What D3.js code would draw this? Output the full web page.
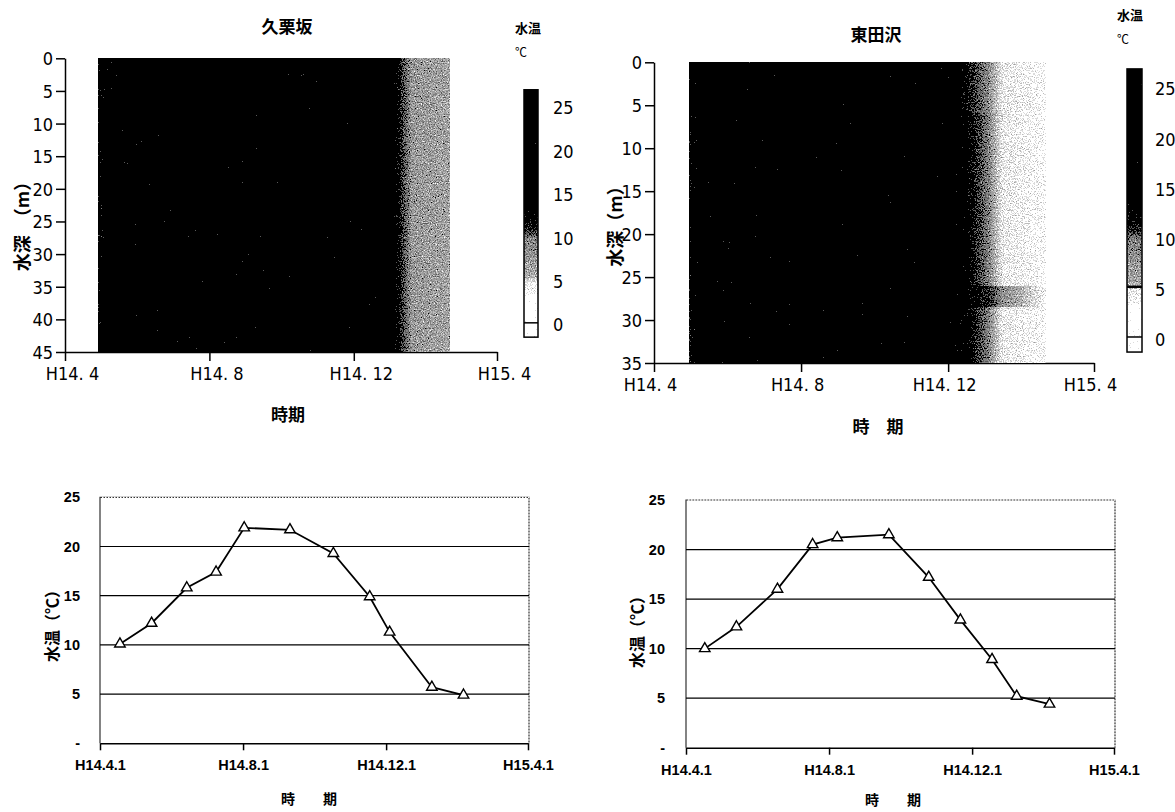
<!DOCTYPE html>
<html>
<head>
<meta charset="utf-8">
<title>水温</title>
<style>
	body { margin: 0; background: #fff; }
	.narrow { font-family: 'Liberation Sans Narrow', 'DejaVu Sans Condensed', 'Arial Narrow', sans-serif; font-size: 18px; }
	.jp { font-family: 'Noto Sans CJK JP', sans-serif; font-weight: bold; }
	.xl { font-family: 'Liberation Sans', Arial, sans-serif; font-weight: bold; font-size: 14.5px; }
</style>
</head>
<body>
<script src="https://cdn.jsdelivr.net/npm/d3@7"></script>
<script>

// ---- data ----
var heatTickDates = ['2002-04-01', '2002-08-01', '2002-12-01', '2003-04-01'];
var heatTickLabels = ['H14. 4', 'H14. 8', 'H14. 12', 'H15. 4'];
var lineTickLabels = ['H14.4.1', 'H14.8.1', 'H14.12.1', 'H15.4.1'];
var tempTicks = [0, 5, 10, 15, 20, 25];
var depthTicksKuri = [0, 5, 10, 15, 20, 25, 30, 35, 40, 45];
var depthTicksHiga = [0, 5, 10, 15, 20, 25, 30, 35];

// 久栗坂 : contour strip (same value at every depth)
var kuriHeatDates = ['2002-04-29', '2002-05-07', '2003-01-03', '2003-01-10', '2003-01-19', '2003-02-20'];
var kuriHeatTemps = [12.2, 18, 18, 11, 7.6, 6.6];

// 東田沢 : contour bands by depth
var higaHeatDates = ['2002-04-30', '2002-05-08', '2002-12-02', '2002-12-16', '2003-01-04', '2003-01-15', '2003-01-29', '2003-02-20'];
var higaBandTop = [0, 6, 26, 28.5];
var higaBandBottom = [6, 26, 28.5, 35];
var higaHeatTemps = [
	[12.6, 18, 15, 12, 8.5, 5.0, 4.6, 3.8],
	[12.6, 18, 16, 13, 9.5, 5.0, 4.6, 3.7],
	[12.6, 18, 16, 13, 11, 8.5, 5.8, 3.8],
	[11.8, 18, 16, 13, 9.5, 5.0, 4.5, 3.7]
];

// monthly surface survey
var kuriDates = ['2002-04-18', '2002-05-15', '2002-06-14', '2002-07-09', '2002-08-02', '2002-09-10', '2002-10-17', '2002-11-17', '2002-12-04', '2003-01-09', '2003-02-05'];
var kuriTemps = [10.1, 12.2, 15.8, 17.4, 21.9, 21.7, 19.3, 14.9, 11.3, 5.7, 4.9];
var higaDates = ['2002-04-17', '2002-05-14', '2002-06-18', '2002-07-18', '2002-08-08', '2002-09-21', '2002-10-25', '2002-11-21', '2002-12-18', '2003-01-08', '2003-02-05'];
var higaTemps = [10.0, 12.2, 16.0, 20.5, 21.2, 21.5, 17.2, 12.9, 8.9, 5.2, 4.4];

var parse = d3.timeParse('%Y-%m-%d');
var span = [parse('2002-04-01'), parse('2003-04-01')];

var svg = d3.select('body').append('svg').attr('width', 1175).attr('height', 812);
var defs = svg.append('defs');

// grainy halftone look of the scanned contour plot
var filt = defs.append('filter').attr('id', 'dither')
	.attr('color-interpolation-filters', 'sRGB');
filt.append('feTurbulence').attr('type', 'fractalNoise').attr('baseFrequency', 0.85)
	.attr('numOctaves', 2).attr('seed', 7).attr('result', 'noise');
filt.append('feColorMatrix').attr('in', 'noise').attr('type', 'matrix')
	.attr('values', '1 0 0 0 0  1 0 0 0 0  1 0 0 0 0  0 0 0 0 1').attr('result', 'gray');
filt.append('feComposite').attr('in', 'SourceGraphic').attr('in2', 'gray').attr('operator', 'arithmetic')
	.attr('k1', 0).attr('k2', 1).attr('k3', 0.9).attr('k4', -0.45).attr('result', 'mix');
var ct = filt.append('feComponentTransfer').attr('in', 'mix').attr('result', 'dith');
['feFuncR', 'feFuncG', 'feFuncB'].forEach(function(f) {
	ct.append(f).attr('type', 'discrete').attr('tableValues', '0 0 0 0.35 0.5 0.62 0.74 0.86 1 1');
});
filt.append('feComposite').attr('in', 'dith').attr('in2', 'SourceGraphic').attr('operator', 'in');

var heatColor = d3.scaleLinear()
	.domain([3.4, 3.6, 5.0, 5.6, 10, 11, 12.8, 14])
	.range(['#ffffff', '#e2e2e2', '#cccccc', '#999999', '#727272', '#404040', '#181818', '#000000'])
	.clamp(true);

var gradCount = 0;

function drawHeat(o) {
	var x = d3.scaleTime().domain(span).range(o.xr);
	var y = d3.scaleLinear().domain([0, o.maxDepth]).range(o.yr);
	var g = svg.append('g');

	// axes
	g.append('g').attr('transform', 'translate(' + o.xr[0] + ',0)')
		.call(d3.axisLeft(y).tickValues(o.depthTicks).tickSize(9).tickSizeOuter(0).tickPadding(3))
		.call(function(a) {
			a.selectAll('text').attr('class', 'narrow').attr('font-size', null).attr('font-family', null).attr('dy', '0.36em');
			a.selectAll('line, path').attr('stroke', '#000').attr('stroke-width', 1.5);
		});
	g.append('g').attr('transform', 'translate(0,' + o.yr[1] + ')')
		.call(d3.axisBottom(x).tickValues(heatTickDates.map(parse)).tickSize(9).tickSizeOuter(0)
			.tickFormat(function(d, i) { return heatTickLabels[i]; }))
		.call(function(a) {
			a.selectAll('text').attr('class', 'narrow').attr('font-size', null).attr('font-family', null)
				.attr('y', 15).attr('dy', '0.71em').attr('dx', o.labelDx);
			a.selectAll('line, path').attr('stroke', '#000').attr('stroke-width', 1.5);
		});

	// contour bands
	var hm = g.append('g').attr('filter', 'url(#dither)');
	o.bandTop.forEach(function(top, b) {
		var dates = o.dates.map(parse);
		var x0 = x(dates[0]), x1 = x(dates[dates.length - 1]);
		var id = 'hg' + (gradCount++);
		var lg = defs.append('linearGradient').attr('id', id)
			.attr('gradientUnits', 'userSpaceOnUse')
			.attr('x1', x0).attr('x2', x1).attr('y1', 0).attr('y2', 0);
		dates.forEach(function(d, i) {
			lg.append('stop').attr('offset', (x(d) - x0) / (x1 - x0))
				.attr('stop-color', heatColor(o.temps[b][i]));
		});
		var yb = b < o.bandTop.length - 1 ? y(o.bandBottom[b]) + 1 : y(o.bandBottom[b]);
		hm.append('rect').attr('x', x0).attr('width', x1 - x0)
			.attr('y', y(top)).attr('height', yb - y(top))
			.attr('shape-rendering', 'crispEdges')
			.attr('fill', 'url(#' + id + ')');
	});

	// titles
	g.append('text').attr('class', 'jp').attr('font-size', 17).attr('text-anchor', 'middle')
		.attr('x', o.titleX).attr('y', o.titleY).attr('dy', '0.35em').text(o.title);
	g.append('text').attr('class', 'jp').attr('font-size', 17).attr('text-anchor', 'middle')
		.attr('x', o.xlabX).attr('y', o.xlabY).attr('dy', '0.35em').text(o.xlab);
	g.append('text').attr('class', 'jp').attr('font-size', 18).attr('text-anchor', 'middle')
		.attr('transform', 'translate(' + o.ylabX + ',' + o.ylabY + ') rotate(-90)')
		.attr('dy', '0.35em').text(o.ylab);

	// colour bar
	var c = d3.scaleLinear().domain([0, 25]).range(o.cbar.yr);
	var cg = g.append('g');
	var cid = 'cb' + (gradCount++);
	var lo = o.cbar.lo, hi = o.cbar.hi;
	var cgr = defs.append('linearGradient').attr('id', cid)
		.attr('gradientUnits', 'userSpaceOnUse')
		.attr('x1', 0).attr('x2', 0).attr('y1', c(lo)).attr('y2', c(hi));
	d3.range(lo, hi + 0.001, 0.1).forEach(function(v) {
		cgr.append('stop').attr('offset', (v - lo) / (hi - lo)).attr('stop-color', heatColor(v));
	});
	cg.append('rect').attr('x', o.cbar.x).attr('width', o.cbar.w)
		.attr('y', c(hi)).attr('height', c(lo) - c(hi))
		.attr('fill', 'url(#' + cid + ')').attr('filter', 'url(#dither)');
	cg.append('rect').attr('x', o.cbar.x).attr('width', o.cbar.w)
		.attr('y', c(hi)).attr('height', c(lo) - c(hi))
		.attr('fill', 'none').attr('stroke', '#000').attr('stroke-width', 1.5);
	o.cbar.lines.forEach(function(l) {
		cg.append('line').attr('x1', o.cbar.x).attr('x2', o.cbar.x + o.cbar.w)
			.attr('y1', c(l[0])).attr('y2', c(l[0]))
			.attr('stroke', '#000').attr('stroke-width', l[1]);
	});
	cg.selectAll('.cl').data(tempTicks).enter().append('text')
		.attr('class', 'narrow').attr('x', o.cbar.lx).attr('y', function(d) { return c(d); })
		.attr('dy', '0.36em').text(function(d) { return d; });
	cg.append('text').attr('class', 'jp').attr('font-size', 13).attr('text-anchor', 'middle')
		.attr('x', o.cbar.tx + 13).attr('y', o.cbar.ty).attr('dy', '0.35em').text('水温');
	cg.append('text').attr('font-family', "'Noto Sans CJK JP', sans-serif").attr('font-size', 12)
		.attr('x', o.cbar.tx).attr('y', o.cbar.ty + 25).attr('dy', '0.35em').text('℃');
}

drawHeat({
	xr: [65, 497], yr: [58.3, 352], maxDepth: 45, depthTicks: depthTicksKuri, labelDx: 7,
	dates: kuriHeatDates, bandTop: [0], bandBottom: [45], temps: [kuriHeatTemps],
	title: '久栗坂', titleX: 287, titleY: 27,
	xlab: '時期', xlabX: 288, xlabY: 415,
	ylab: '水深　（m）', ylabX: 23, ylabY: 222,
	cbar: { x: 524, w: 14, yr: [325, 108], lo: -1.4, hi: 27.1, lx: 553, tx: 515, ty: 28,
		lines: [[0.25, 1.5]] }
});

drawHeat({
	xr: [654, 1094], yr: [62.3, 363], maxDepth: 35, depthTicks: depthTicksHiga, labelDx: -4,
	dates: higaHeatDates, bandTop: higaBandTop, bandBottom: higaBandBottom, temps: higaHeatTemps,
	title: '東田沢', titleX: 876, titleY: 35,
	xlab: '時　期', xlabX: 878, xlabY: 427,
	ylab: '水深（m）', ylabX: 616, ylabY: 222,
	cbar: { x: 1127, w: 15, yr: [340, 89], lo: -1.2, hi: 27, lx: 1155, tx: 1117, ty: 15,
		lines: [[0.3, 1.5], [5.3, 2.5]] }
});

function drawLine(o) {
	var x = d3.scaleTime().domain(span).range(o.xr);
	var y = d3.scaleLinear().domain([0, 25]).range(o.yr);
	var g = svg.append('g');
	var L = o.xr[0], R = o.xr[1] + 1, T = y(25), B = y(0);

	// plot frame: solid left, dotted top and right
	g.append('path').attr('d', 'M' + L + ',' + B + 'V' + T + 'H' + R + 'V' + B)
		.attr('fill', 'none').attr('stroke', '#333').attr('stroke-width', 1.2);
	g.append('path').attr('d', 'M' + (L + 2) + ',' + T + 'H' + R + 'V' + B)
		.attr('fill', 'none').attr('stroke', '#fff').attr('stroke-width', 1.3).attr('stroke-dasharray', '1.5,1.5');
	g.selectAll('.grid').data([5, 10, 15, 20]).enter().append('line')
		.attr('x1', L).attr('x2', R).attr('y1', y).attr('y2', y)
		.attr('stroke', '#000').attr('stroke-width', 1.2);

	g.append('g').attr('transform', 'translate(0,' + B + ')')
		.call(d3.axisBottom(x).tickValues(heatTickDates.map(parse)).tickSize(7).tickSizeOuter(0)
			.tickFormat(function(d, i) { return lineTickLabels[i]; }))
		.call(function(a) {
			a.selectAll('text').attr('class', 'xl').attr('font-size', null).attr('font-family', null)
				.attr('y', 22).attr('dy', '0.35em');
			a.selectAll('line, path').attr('stroke', '#000').attr('stroke-width', 1.5);
		});

	g.selectAll('.yl').data(tempTicks).enter().append('text')
		.attr('class', 'xl').attr('text-anchor', 'end')
		.attr('x', o.ylx).attr('y', y).attr('dy', '0.35em')
		.text(function(d) { return d === 0 ? '-' : d; });

	var pts = o.dates.map(function(d, i) { return [x(parse(d)), y(o.temps[i])]; });
	g.append('path').attr('d', d3.line()(pts))
		.attr('fill', 'none').attr('stroke', '#000').attr('stroke-width', 1.8);
	g.selectAll('.pt').data(pts).enter().append('path')
		.attr('d', d3.symbol(d3.symbolTriangle, 48))
		.attr('transform', function(p) { return 'translate(' + p[0] + ',' + p[1] + ')'; })
		.attr('fill', '#fff').attr('stroke', '#000').attr('stroke-width', 1.4);

	g.append('text').attr('class', 'jp').attr('font-size', 14).attr('text-anchor', 'middle')
		.attr('x', o.xlabX).attr('y', o.xlabY).attr('dy', '0.35em').text('時　　期');
	g.append('text').attr('class', 'jp').attr('font-size', 16).attr('text-anchor', 'middle')
		.attr('transform', 'translate(' + o.ylabX + ',' + o.ylabY + ') rotate(-90)')
		.attr('dy', '0.35em').text('水温（℃）');
}

drawLine({ xr: [100, 528], yr: [743.3, 497.3], dates: kuriDates, temps: kuriTemps,
	ylx: 80, xlabX: 309, xlabY: 799, ylabX: 52, ylabY: 622 });
drawLine({ xr: [686, 1114], yr: [747.7, 500], dates: higaDates, temps: higaTemps,
	ylx: 665, xlabX: 893, xlabY: 800, ylabX: 637, ylabY: 628 });

</script>
</body>
</html>
